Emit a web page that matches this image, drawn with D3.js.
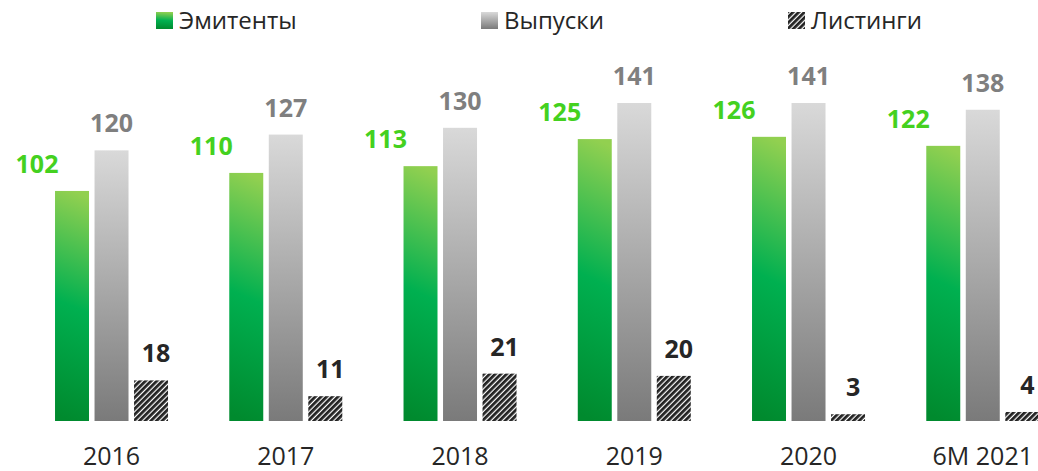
<!DOCTYPE html>
<html lang="ru">
<head>
  <meta charset="UTF-8">
  <title>Эмитенты, выпуски, листинги</title>
  <style>
    body { margin: 0; background: #fff; }
    text { font-family: "Open Sans", sans-serif; }
  </style>
</head>
<body>
  <svg width="1038" height="471"></svg>
  <script src="https://d3js.org/d3.v7.min.js"></script>
  <script>
// Data
const years = ["2016", "2017", "2018", "2019", "2020", "6M 2021"];
const seriesNames = ["Эмитенты", "Выпуски", "Листинги"];
const issuers = [102, 110, 113, 125, 126, 122];
const issues = [120, 127, 130, 141, 141, 138];
const listings = [18, 11, 21, 20, 3, 4];

const svg = d3.select("svg");
const defs = svg.append("defs");

// green fill, lighter at the top (isolines only slightly tilted on tall bars)
const gGreen = defs.append("linearGradient")
  .attr("id", "green").attr("x1", 0.53).attr("y1", 0).attr("x2", 0.47).attr("y2", 1);
gGreen.append("stop").attr("offset", "0%").attr("stop-color", "#92d050");
gGreen.append("stop").attr("offset", "50%").attr("stop-color", "#00b050");
gGreen.append("stop").attr("offset", "100%").attr("stop-color", "#008a2e");

// gray fill, vertical
const gGray = defs.append("linearGradient")
  .attr("id", "gray").attr("x1", 0).attr("y1", 0).attr("x2", 0).attr("y2", 1);
gGray.append("stop").attr("offset", "0%").attr("stop-color", "#d9d9d9");
gGray.append("stop").attr("offset", "100%").attr("stop-color", "#7a7a7a");

// diagonal hatch
const hatch = defs.append("pattern")
  .attr("id", "hatch").attr("patternUnits", "userSpaceOnUse")
  .attr("width", 4).attr("height", 4)
  .attr("patternTransform", "rotate(45)");
hatch.append("rect").attr("width", 4).attr("height", 4).attr("fill", "#fff");
hatch.append("rect").attr("width", 2.8).attr("height", 4).attr("fill", "#222");

const fills = ["url(#green)", "url(#gray)", "url(#hatch)"];
const labelColors = ["#44d11f", "#7f7f7f", "#262626"];
const labelDx = [-35, 0, 5];

const x0 = d3.scaleBand().domain(years).range([24.4, 1069.9]);
const x1 = d3.scaleBand().domain(seriesNames).range([-56.5, 56.5]).paddingInner(0.14);
const y = d3.scaleLinear().domain([0, 141]).range([421, 103]);

const rows = years.map((yr, i) => ({
  year: yr,
  values: [issuers[i], issues[i], listings[i]].map((v, k) => ({ name: seriesNames[k], k, v }))
}));

const groups = svg.selectAll(".grp")
  .data(rows).enter().append("g")
  .attr("class", "grp")
  .attr("transform", d => `translate(${x0(d.year) + x0.bandwidth() / 2},0)`);

groups.selectAll("rect")
  .data(d => d.values).enter().append("rect")
  .attr("x", d => x1(d.name))
  .attr("y", d => y(d.v))
  .attr("width", x1.bandwidth())
  .attr("height", d => y(0) - y(d.v))
  .attr("fill", d => fills[d.k]);

groups.selectAll(".val")
  .data(d => d.values).enter().append("text")
  .attr("class", "val")
  .attr("x", d => x1(d.name) + x1.bandwidth() / 2 + labelDx[d.k])
  .attr("y", d => y(d.v) - 18)
  .attr("text-anchor", "middle")
  .attr("font-size", 25)
  .attr("font-weight", "bold")
  .attr("fill", d => labelColors[d.k])
  .text(d => d.v);

// category axis, no line or ticks
const xAxis = svg.append("g")
  .attr("transform", "translate(0,421)")
  .call(d3.axisBottom(x0).tickSize(0).tickPadding(26));
xAxis.select(".domain").remove();
xAxis.selectAll("text")
  .attr("font-family", "Open Sans, sans-serif")
  .attr("font-size", 25)
  .attr("fill", "#262626");

// legend
const legendX = [156, 481, 788];
const legend = svg.append("g");
seriesNames.forEach((name, k) => {
  legend.append("rect")
    .attr("x", legendX[k]).attr("y", 12)
    .attr("width", 17).attr("height", 17)
    .attr("fill", fills[k]);
  legend.append("text")
    .attr("x", legendX[k] + 23).attr("y", 29)
    .attr("font-size", 24)
    .attr("fill", "#262626")
    .text(name);
});
  </script>
</body>
</html>
